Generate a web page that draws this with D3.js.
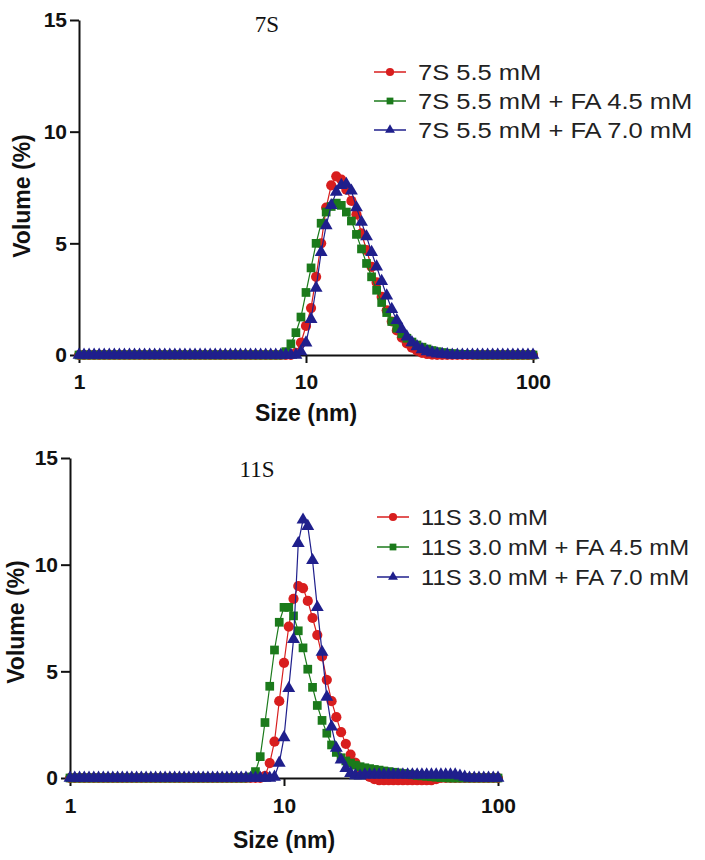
<!DOCTYPE html>
<html><head><meta charset="utf-8">
<script src="https://cdn.jsdelivr.net/npm/d3@7"></script>
<style>body{margin:0;background:#fff}svg{display:block}</style>
</head><body>
<svg id="chart" width="705" height="860"></svg>
<script>
// Size bins (nm), log-spaced
const SIZE_NM = [1.000,1.0525,1.1079,1.1659,1.2271,1.2915,1.3594,1.4307,1.5058,1.5849,1.6681,1.7557,1.8478,1.9448,2.0469,2.1544,2.2675,2.3865,2.5119,2.6437,2.7826,2.9286,3.0824,3.2442,3.4145,3.5938,3.7825,3.9811,4.1900,4.4100,4.6416,4.8853,5.1417,5.4117,5.6958,5.9948,6.3096,6.6408,6.9894,7.3564,7.7426,8.1491,8.5770,9.0272,9.5011,10,10.525,11.079,11.659,12.271,12.915,13.594,14.307,15.058,15.849,16.681,17.557,18.478,19.448,20.469,21.544,22.675,23.865,25.119,26.437,27.826,29.286,30.824,32.442,34.145,35.938,37.825,39.811,41.900,44.100,46.416,48.853,51.417,54.117,56.958,59.948,63.096,66.408,69.894,73.564,77.426,81.491,85.770,90.272,95.011,100];

// Panel 1 (7S)
const LABELS_7S = ["7S 5.5 mM", "7S 5.5 mM + FA 4.5 mM", "7S 5.5 mM + FA 7.0 mM"];
const VOL_7S = [0,0,0,0,0,0,0,0,0,0, 0,0,0,0,0,0,0,0,0,0, 0,0,0,0,0,0,0,0,0,0, 0,0,0,0,0,0,0,0,0,0, 0,0,0,0.1,0.55,1.3,2.1,3.5,5.0,6.6, 7.6,8.0,7.85,7.4,6.9,6.3,5.45,4.7,3.95,3.25, 2.6,2.0,1.5,1.1,0.78,0.52,0.33,0.2,0.1,0.05, 0.02,0,0,0,0,0,0,0,0,0, 0,0,0,0,0,0,0,0,0,0, 0];
const VOL_7S_FA45 = [0,0,0,0,0,0,0,0,0,0, 0,0,0,0,0,0,0,0,0,0, 0,0,0,0,0,0,0,0,0,0, 0,0,0,0,0,0,0,0,0,0, 0,0.15,0.5,1.0,1.7,2.8,3.9,5.0,5.9,6.4, 6.65,6.8,6.7,6.4,6.0,5.4,4.75,4.1,3.5,2.9, 2.35,1.9,1.5,1.2,0.95,0.75,0.58,0.45,0.35,0.27, 0.2,0.15,0.11,0.08,0.06,0.04,0.03,0.02,0.01,0, 0,0,0,0,0,0,0,0,0,0, 0];
const VOL_7S_FA70 = [0,0,0,0,0,0,0,0,0,0, 0,0,0,0,0,0,0,0,0,0, 0,0,0,0,0,0,0,0,0,0, 0,0,0,0,0,0,0,0,0,0, 0,0,0,0,0.15,0.55,1.6,3.0,4.6,5.8, 6.7,7.3,7.6,7.65,7.35,6.6,5.95,5.3,4.6,3.95, 3.3,2.65,2.05,1.55,1.15,0.82,0.56,0.38,0.25,0.16, 0.1,0.06,0.04,0.02,0,0,0,0,0,0, 0,0,0,0,0,0,0,0,0,0, 0];

// Panel 2 (11S)
const LABELS_11S = ["11S 3.0 mM", "11S 3.0 mM + FA 4.5 mM", "11S 3.0 mM + FA 7.0 mM"];
const VOL_11S = [0,0,0,0,0,0,0,0,0,0, 0,0,0,0,0,0,0,0,0,0, 0,0,0,0,0,0,0,0,0,0, 0,0,0,0,0,0,0,0,0,0, 0,0.1,0.7,1.7,3.6,5.4,7.1,8.4,9.0,8.9, 8.3,7.5,6.7,5.7,4.6,3.6,2.85,2.15,1.6,1.1, 0.72,0.42,0.2,0.05,-0.05,-0.1,-0.1,-0.1,-0.1,-0.1, -0.1,-0.1,-0.1,-0.1,-0.1,-0.1,-0.1,-0.05,0,0, 0,0,0,0,0,0,0,0,0,0, 0];
const VOL_11S_FA45 = [0,0,0,0,0,0,0,0,0,0, 0,0,0,0,0,0,0,0,0,0, 0,0,0,0,0,0,0,0,0,0, 0,0,0,0,0,0,0,0,0.05,0.3, 1.0,2.6,4.3,6.0,7.3,8.0,8.0,7.6,6.9,6.1, 5.1,4.25,3.4,2.7,2.1,1.55,1.2,0.95,0.8,0.7, 0.6,0.53,0.48,0.44,0.4,0.37,0.33,0.3,0.27,0.24, 0.21,0.18,0.15,0.12,0.1,0.08,0.06,0.04,0.02,0.01, 0,0,0,0,0,0,0,0,0,0, 0];
const VOL_11S_FA70 = [0,0,0,0,0,0,0,0,0,0, 0,0,0,0,0,0,0,0,0,0, 0,0,0,0,0,0,0,0,0,0, 0,0,0,0,0,0,0,0,0,0, 0,0,0,0.05,0.7,1.9,4.2,6.5,11.0,12.1, 11.8,10.2,8.0,5.9,3.8,2.4,1.4,0.85,0.45,0.22, 0.12,0.1,0.15,0.15,0.15,0.15,0.15,0.15,0.15,0.15, 0.15,0.15,0.15,0.15,0.15,0.15,0.15,0.15,0.15,0.15, 0.15,0.15,0.1,0.05,0,0,0,0,0,0, 0];

const Y_TICKS = [0, 5, 10, 15];
const X_TICKS = [1, 10, 100];
const X_TICK_LABELS = ["1", "10", "100"];
const X_TITLE = "Size (nm)";
const Y_TITLE = "Volume (%)";

const COLORS = ["#d81e1e", "#1b7a1b", "#1f1f8c"];
const SHAPES = [d3.symbolCircle, d3.symbolSquare, d3.symbolTriangle];
const SHAPE_SIZES = [82, 76, 72];
const LEGEND_SHAPE_SIZES = [52, 46, 42];

const svg = d3.select("#chart");

function drawPanel(o) {
  const g = svg.append("g");
  const x = d3.scaleLog().domain([1, 100]).range([o.left, o.right]);
  const y = d3.scaleLinear().domain([0, 15]).range([o.bottom, o.top]);

  // axes
  const xa = g.append("g").attr("transform", `translate(0,${o.bottom})`)
    .call(d3.axisBottom(x).tickValues(X_TICKS).tickFormat((d, i) => X_TICK_LABELS[i]).tickSize(8).tickSizeOuter(0).tickPadding(o.xPad));
  const ya = g.append("g").attr("transform", `translate(${o.left},0)`)
    .call(d3.axisLeft(y).tickValues(Y_TICKS).tickFormat(d3.format("d")).tickSize(9).tickSizeOuter(0).tickPadding(3));
  [xa, ya].forEach(a => {
    a.select(".domain").attr("stroke", "#111").attr("stroke-width", 2);
    a.selectAll(".tick line").attr("stroke", "#111").attr("stroke-width", 2);
    a.selectAll(".tick text").attr("fill", "#111").style("font-family", "Liberation Sans, Arial, sans-serif")
      .style("font-weight", "bold").style("font-size", "21px");
  });

  // titles
  g.append("text").attr("x", (o.left + o.right) / 2).attr("y", o.bottom + o.xTitleDy)
    .attr("text-anchor", "middle").style("font-family", "Liberation Sans, Arial, sans-serif")
    .style("font-weight", "bold").style("font-size", "23px").attr("fill", "#111").text(X_TITLE);
  g.append("text").attr("transform", `translate(${o.yTitleX},${o.yTitleY}) rotate(-90)`)
    .attr("text-anchor", "middle").style("font-family", "Liberation Sans, Arial, sans-serif")
    .style("font-weight", "bold").style("font-size", "23px").attr("fill", "#111").text(Y_TITLE);
  g.append("text").attr("x", o.titleX).attr("y", o.titleY).attr("text-anchor", "middle")
    .style("font-family", "Liberation Serif, Times New Roman, serif").style("font-size", "23px")
    .attr("fill", "#111").text(o.title);

  // series
  const line = d3.line().x((d, i) => x(SIZE_NM[i])).y(d => y(d));
  o.series.forEach((vals, si) => {
    const sg = g.append("g");
    sg.append("path").datum(vals).attr("d", line).attr("fill", "none")
      .attr("stroke", COLORS[si]).attr("stroke-width", 1.2);
    sg.selectAll("path.m").data(vals).enter().append("path").attr("class", "m")
      .attr("transform", (d, i) => `translate(${x(SIZE_NM[i])},${y(d)})`)
      .attr("d", d3.symbol().type(SHAPES[si]).size(SHAPE_SIZES[si]))
      .attr("fill", COLORS[si]);
  });

  // legend
  const lg = g.append("g");
  o.labels.forEach((lab, i) => {
    const ly = o.legY + i * o.legStep;
    lg.append("line").attr("x1", o.legX).attr("x2", o.legX + 32).attr("y1", ly).attr("y2", ly)
      .attr("stroke", COLORS[i]).attr("stroke-width", 1.5);
    lg.append("path").attr("transform", `translate(${o.legX + 16},${ly})`)
      .attr("d", d3.symbol().type(SHAPES[i]).size(LEGEND_SHAPE_SIZES[i])).attr("fill", COLORS[i]);
    lg.append("text").attr("transform", `translate(${o.legX + 44},${ly}) scale(${o.legSx},1)`)
      .attr("dy", "0.36em")
      .style("font-family", "Liberation Sans, Arial, sans-serif").style("font-size", "22px")
      .attr("fill", "#222").text(lab);
  });
}

drawPanel({left: 79, right: 533, top: 20, bottom: 355, xPad: 11, xTitleDy: 66,
  yTitleX: 30, yTitleY: 196, title: "7S", titleX: 267, titleY: 32,
  series: [VOL_7S, VOL_7S_FA45, VOL_7S_FA70], labels: LABELS_7S,
  legX: 374, legY: 72, legStep: 29, legSx: 1.16});
drawPanel({left: 70, right: 498, top: 458, bottom: 778, xPad: 12, xTitleDy: 70,
  yTitleX: 24, yTitleY: 622, title: "11S", titleX: 257, titleY: 477,
  series: [VOL_11S, VOL_11S_FA45, VOL_11S_FA70], labels: LABELS_11S,
  legX: 377, legY: 517, legStep: 30, legSx: 1.085});
</script>
</body></html>
